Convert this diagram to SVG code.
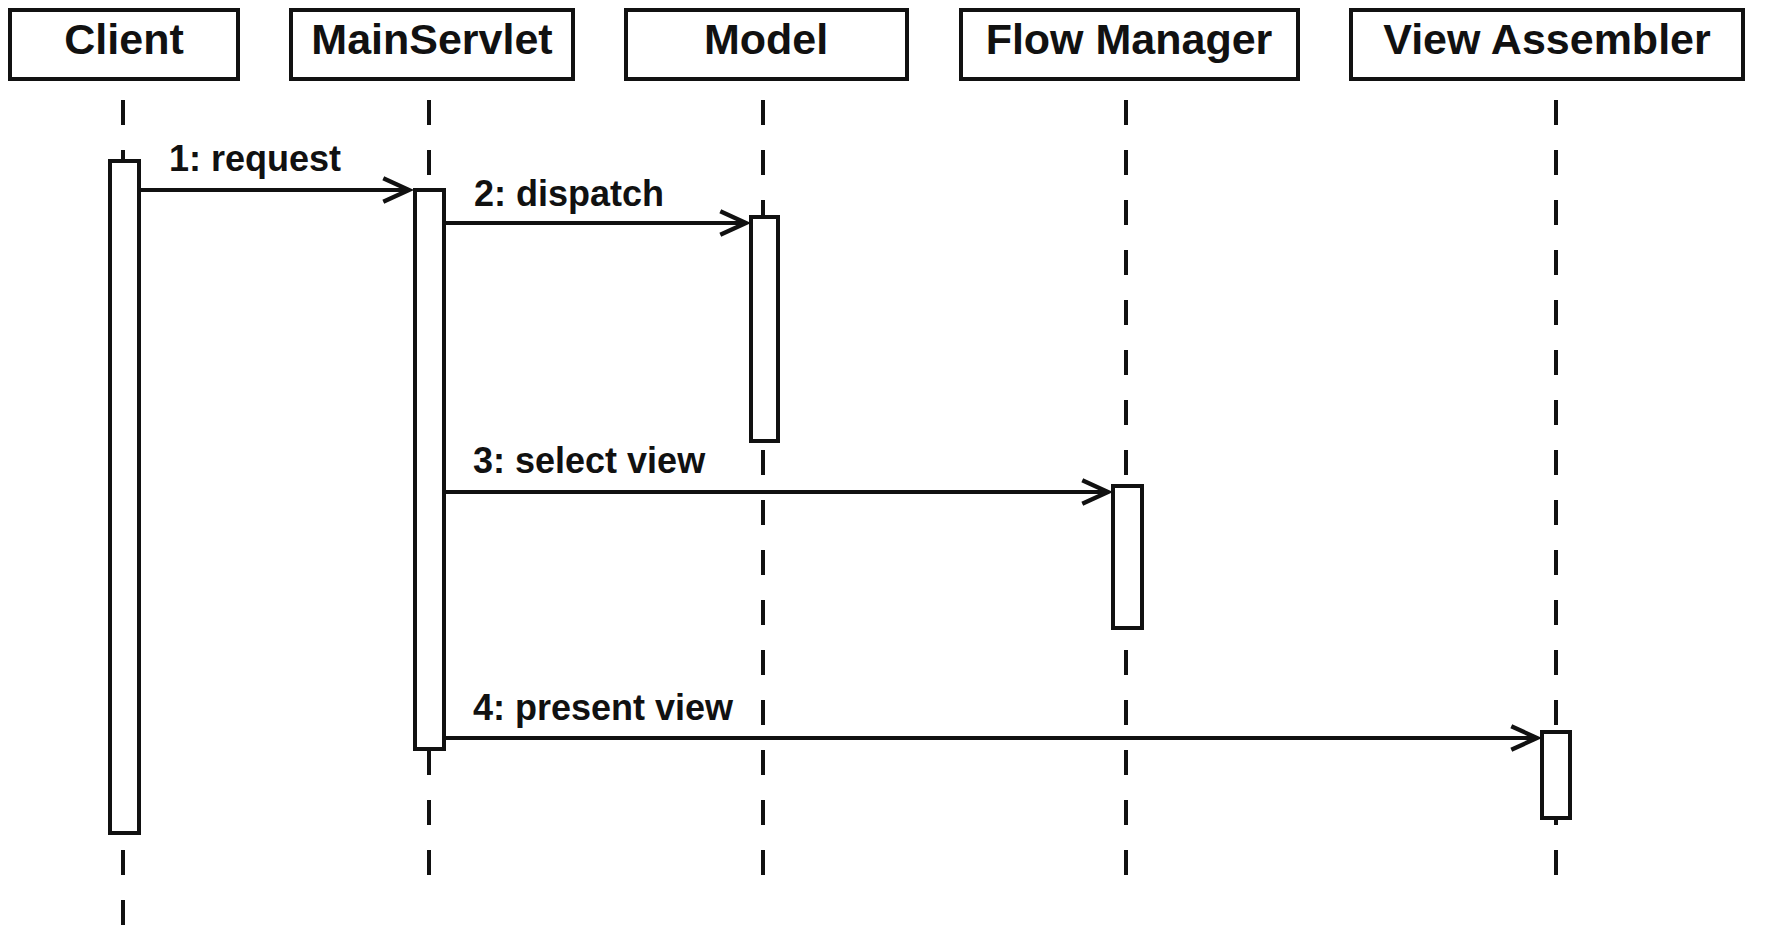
<svg xmlns="http://www.w3.org/2000/svg" width="1765" height="928" viewBox="0 0 1765 928">
<defs>
<style>
.hdr{fill:#fff;stroke:#111;stroke-width:4}
.name{font-family:"Liberation Sans",Arial,sans-serif;font-weight:bold;font-size:43px;fill:#111;text-anchor:middle}
.life{stroke:#111;stroke-width:4;stroke-dasharray:25 25;fill:none}
.act{fill:#fff;stroke:#111;stroke-width:4}
.msg{stroke:#111;stroke-width:4;fill:none}
.lbl{font-family:"Liberation Sans",Arial,sans-serif;font-weight:bold;font-size:36px;fill:#111}
</style>
<marker id="arr" markerUnits="userSpaceOnUse" markerWidth="40" markerHeight="30" refX="0" refY="0" viewBox="-26 -14 30 28" orient="auto" overflow="visible">
<path d="M -24 -11 L 0 0 L -24 11" fill="none" stroke="#111" stroke-width="4"/>
</marker>
</defs>
<rect width="1765" height="928" fill="#fff"/>
<g id="lifelines">
<line class="life" x1="123" y1="100" x2="123" y2="927"/>
<line class="life" x1="429" y1="100" x2="429" y2="875"/>
<line class="life" x1="763" y1="100" x2="763" y2="875"/>
<line class="life" x1="1126" y1="100" x2="1126" y2="875"/>
<line class="life" x1="1556" y1="100" x2="1556" y2="875"/>
</g>
<g id="client">
<rect class="hdr" x="10" y="10" width="228" height="69"/>
<text class="name" x="124" y="54">Client</text>
<rect class="act" x="110" y="161" width="29" height="672"/>
</g>
<g id="mainservlet">
<rect class="hdr" x="291" y="10" width="282" height="69"/>
<text class="name" x="432" y="54">MainServlet</text>
<rect class="act" x="415" y="190" width="29" height="559"/>
</g>
<g id="model">
<rect class="hdr" x="626" y="10" width="281" height="69"/>
<text class="name" x="766" y="54">Model</text>
<rect class="act" x="751" y="217" width="27" height="224"/>
</g>
<g id="flowmanager">
<rect class="hdr" x="961" y="10" width="337" height="69"/>
<text class="name" x="1129" y="54">Flow Manager</text>
<rect class="act" x="1113" y="486" width="29" height="142"/>
</g>
<g id="viewassembler">
<rect class="hdr" x="1351" y="10" width="392" height="69"/>
<text class="name" x="1547" y="54">View Assembler</text>
<rect class="act" x="1542" y="732" width="28" height="86"/>
</g>
<g id="connectors">
<line class="msg" x1="140" y1="190" x2="409" y2="190" marker-end="url(#arr)"/>
<text class="lbl" x="169" y="171">1: request</text>
<line class="msg" x1="445" y1="223" x2="746" y2="223" marker-end="url(#arr)"/>
<text class="lbl" x="474" y="206">2: dispatch</text>
<line class="msg" x1="445" y1="492" x2="1108" y2="492" marker-end="url(#arr)"/>
<text class="lbl" x="473" y="473">3: select view</text>
<line class="msg" x1="445" y1="738" x2="1537" y2="738" stroke-width="5" marker-end="url(#arr)"/>
<text class="lbl" x="473" y="720">4: present view</text>
</g>
</svg>
